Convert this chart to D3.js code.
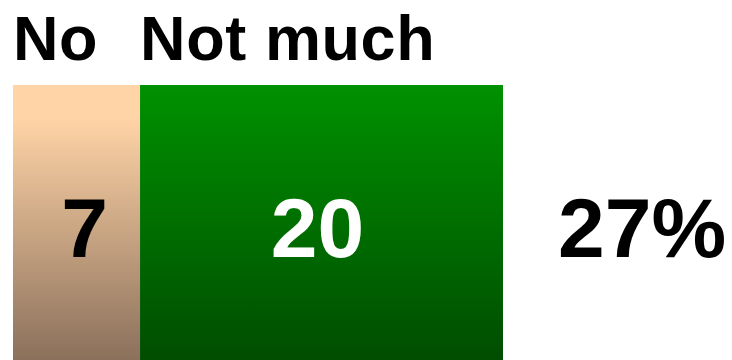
<!DOCTYPE html>
<html>
<head>
<meta charset="utf-8">
<script src="https://cdn.jsdelivr.net/npm/d3@7/dist/d3.min.js"></script>
<style>
  html, body { margin: 0; padding: 0; background: #fff; }
  svg { display: block; }
  text { font-family: "Liberation Sans", Arial, sans-serif; font-weight: bold; }
</style>
</head>
<body>
<script>
// Answer categories and their shares (percent)
const categories = ["No", "Not much"];
const values = [7, 20];
const totalLabel = "27%";
const fillTop = ["#ffd4a7", "#009100"];
const fillBottom = ["#8b705b", "#004d00"];
const labelColors = ["#000000", "#ffffff"];

const W = 732, H = 360;
const margin = { left: 13, top: 85 };
const barBottom = H;

const total = d3.sum(values);
const x = d3.scaleLinear().domain([0, total]).range([margin.left, 503]);
const y = d3.scaleLinear().domain([0, 1]).range([barBottom, margin.top]);

const svg = d3.select("body").append("svg").attr("width", W).attr("height", H);

// vertical gradients for each segment
const defs = svg.append("defs");
categories.forEach((c, i) => {
  const g = defs.append("linearGradient")
    .attr("id", "grad" + i)
    .attr("x1", 0).attr("y1", 0).attr("x2", 0).attr("y2", 1);
  g.append("stop").attr("offset", "0").attr("stop-color", fillTop[i]);
  g.append("stop").attr("offset", i === 0 ? "0.12" : "0").attr("stop-color", fillTop[i]);
  g.append("stop").attr("offset", "1").attr("stop-color", fillBottom[i]);
});

// stack the segments left to right
let acc = 0;
const segs = values.map((v, i) => {
  const s = { cat: categories[i], v, x0: acc, x1: acc + v, i };
  acc += v;
  return s;
});

const g = svg.append("g");

g.selectAll("rect.seg")
  .data(segs)
  .enter().append("rect")
  .attr("class", "seg")
  .attr("x", d => x(d.x0))
  .attr("width", d => x(d.x1) - x(d.x0))
  .attr("y", y(1))
  .attr("height", y(0) - y(1))
  .attr("fill", d => `url(#grad${d.i})`);

// category names above each segment
g.selectAll("text.cat")
  .data(segs)
  .enter().append("text")
  .attr("class", "cat")
  .attr("x", d => x(d.x0))
  .attr("y", 60)
  .attr("font-size", 63)
  .attr("letter-spacing", 0.6)
  .attr("fill", "#000")
  .text(d => d.cat);

// value inside each segment
const midY = (y(0) + y(1)) / 2;
g.selectAll("text.val")
  .data(segs)
  .enter().append("text")
  .attr("class", "val")
  .attr("x", d => (x(d.x0) + x(d.x1)) / 2 + (d.i === 0 ? 8 : -4))
  .attr("y", midY + 34.5)
  .attr("text-anchor", "middle")
  .attr("font-size", 84)
  .attr("fill", d => labelColors[d.i])
  .text(d => d.v);

// total to the right of the bar
g.append("text")
  .attr("x", x(total) + 55)
  .attr("y", midY + 34.5)
  .attr("font-size", 84)
  .attr("fill", "#000")
  .text(totalLabel);
</script>
</body>
</html>
